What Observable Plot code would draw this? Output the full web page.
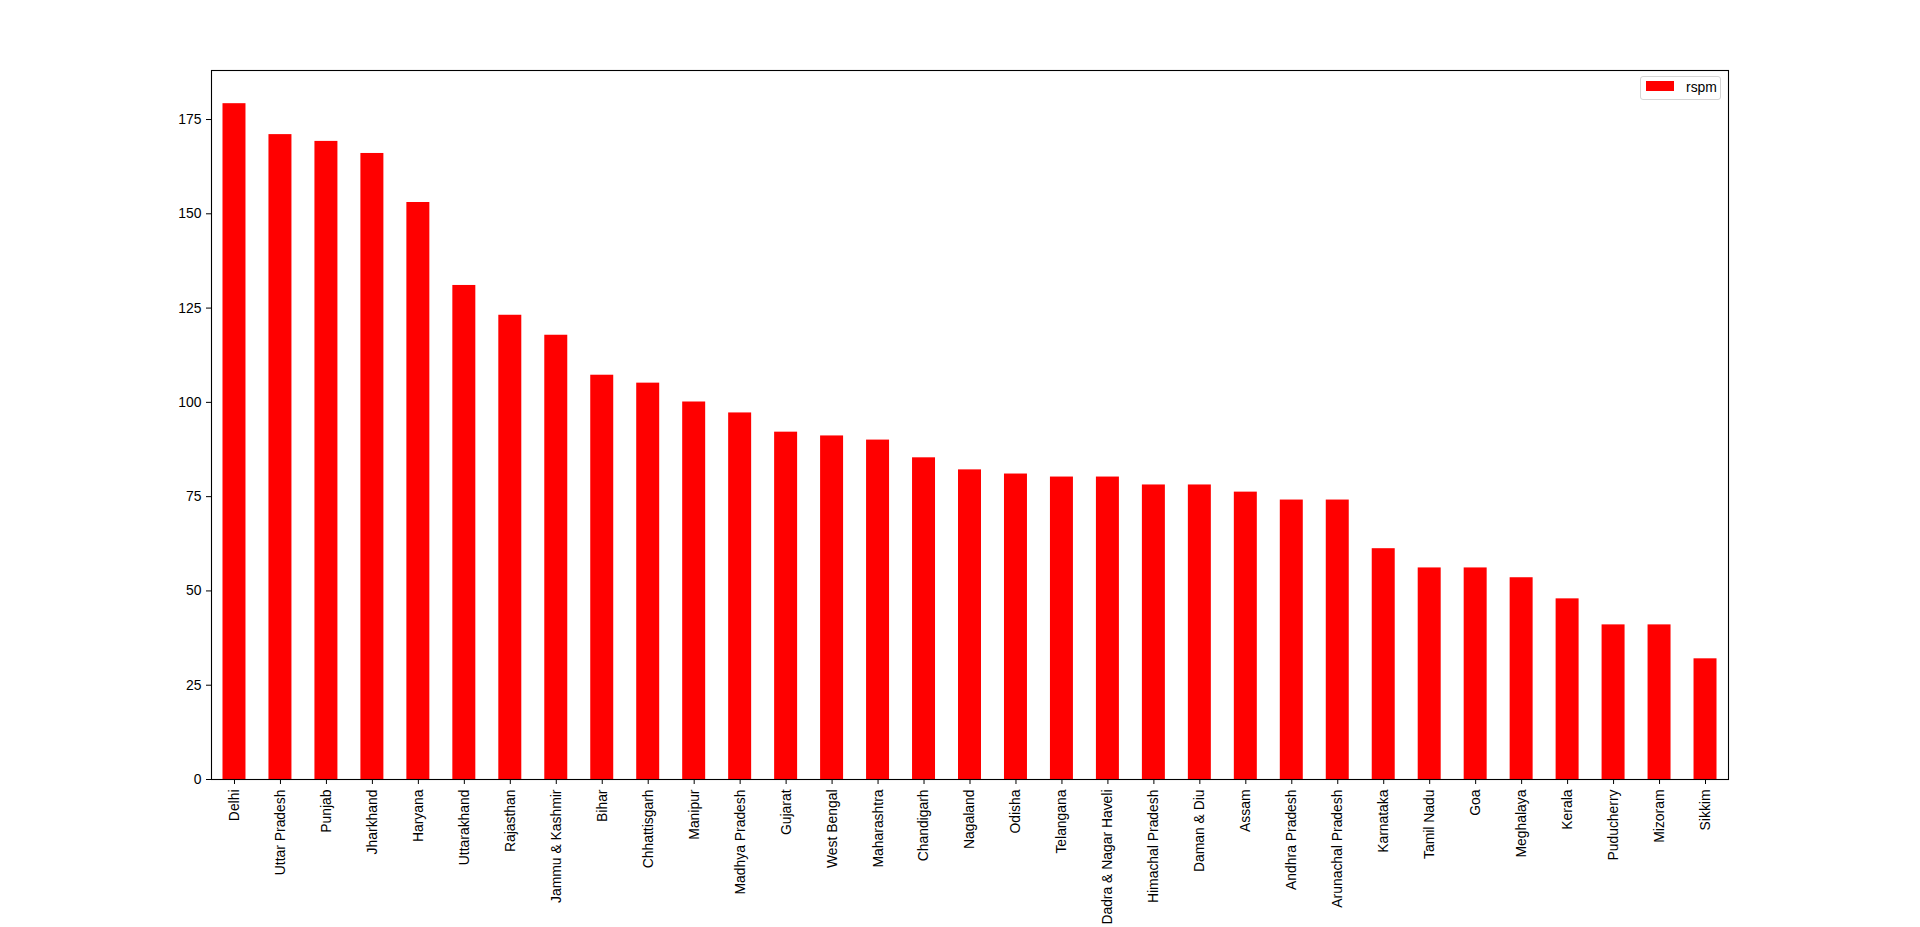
<!DOCTYPE html>
<html>
<head>
<meta charset="utf-8">
<script src="https://cdn.jsdelivr.net/npm/d3@7"></script>
<script src="https://cdn.jsdelivr.net/npm/@observablehq/plot@0.6"></script>
<style>
  html, body { margin: 0; padding: 0; background: #fff; overflow: hidden; }
  #wrap { position: relative; width: 1920px; height: 927px; }
  .legend {
    position: absolute; left: 1640px; top: 76px; width: 81px; height: 24px;
    box-sizing: border-box; border: 1px solid #d5d5d5; border-radius: 3px;
    background: rgba(255,255,255,0.8);
    font-family: "Liberation Sans", Arial, sans-serif; font-size: 13.9px; color: #000;
  }
  .legend .sw { position: absolute; left: 5px; top: 4px; width: 28px; height: 10px; background: #ff0000; }
  .legend .lb { position: absolute; left: 45px; top: 2px; line-height: 16px; }
</style>
</head>
<body>
<div id="wrap"></div>
<script>
const states = [
  "Delhi", "Uttar Pradesh", "Punjab", "Jharkhand", "Haryana", "Uttarakhand",
  "Rajasthan", "Jammu & Kashmir", "Bihar", "Chhattisgarh", "Manipur",
  "Madhya Pradesh", "Gujarat", "West Bengal", "Maharashtra", "Chandigarh",
  "Nagaland", "Odisha", "Telangana", "Dadra & Nagar Haveli", "Himachal Pradesh",
  "Daman & Diu", "Assam", "Andhra Pradesh", "Arunachal Pradesh", "Karnataka",
  "Tamil Nadu", "Goa", "Meghalaya", "Kerala", "Puducherry", "Mizoram", "Sikkim"
];
const rspm = [
  179.2, 171.0, 169.2, 166.0, 153.0, 131.0,
  123.1, 117.8, 107.2, 105.1, 100.1,
  97.2, 92.1, 91.1, 90.0, 85.3,
  82.1, 81.0, 80.2, 80.2, 78.1,
  78.1, 76.2, 74.1, 74.1, 61.2,
  56.1, 56.1, 53.5, 47.9, 41.0, 41.0, 32.0
];
const yTicks = [0, 25, 50, 75, 100, 125, 150, 175];
const seriesName = "rspm";

const data = states.map((s, i) => ({ state: s, value: rspm[i] }));

const chart = Plot.plot({
  width: 1920,
  height: 927,
  marginLeft: 211,
  marginRight: 192,
  marginTop: 70,
  marginBottom: 148,
  style: {
    fontFamily: '"Liberation Sans", Arial, sans-serif',
    fontSize: "13.9px",
    color: "#000",
    background: "#fff",
    overflow: "visible"
  },
  x: { type: "band", domain: states, paddingInner: 0.5, paddingOuter: 0.25, label: null },
  y: { domain: [0, 188], label: null },
  marks: [
    Plot.barY(data, { x: "state", y: "value", fill: "#ff0000" }),
    Plot.frame({ stroke: "#000", strokeWidth: 1.1 }),
    Plot.axisX({ tickRotate: -90, tickSize: 5, tickPadding: 5, label: null, fontSize: 13.9 }),
    Plot.axisY({ ticks: yTicks, tickSize: 5, tickPadding: 5, label: null, tickFormat: d => String(d), fontSize: 13.9 })
  ]
});

const wrap = document.getElementById("wrap");
wrap.appendChild(chart);
const legend = document.createElement("div");
legend.className = "legend";
legend.innerHTML = `<div class="sw"></div><div class="lb">${seriesName}</div>`;
wrap.appendChild(legend);
</script>
</body>
</html>
